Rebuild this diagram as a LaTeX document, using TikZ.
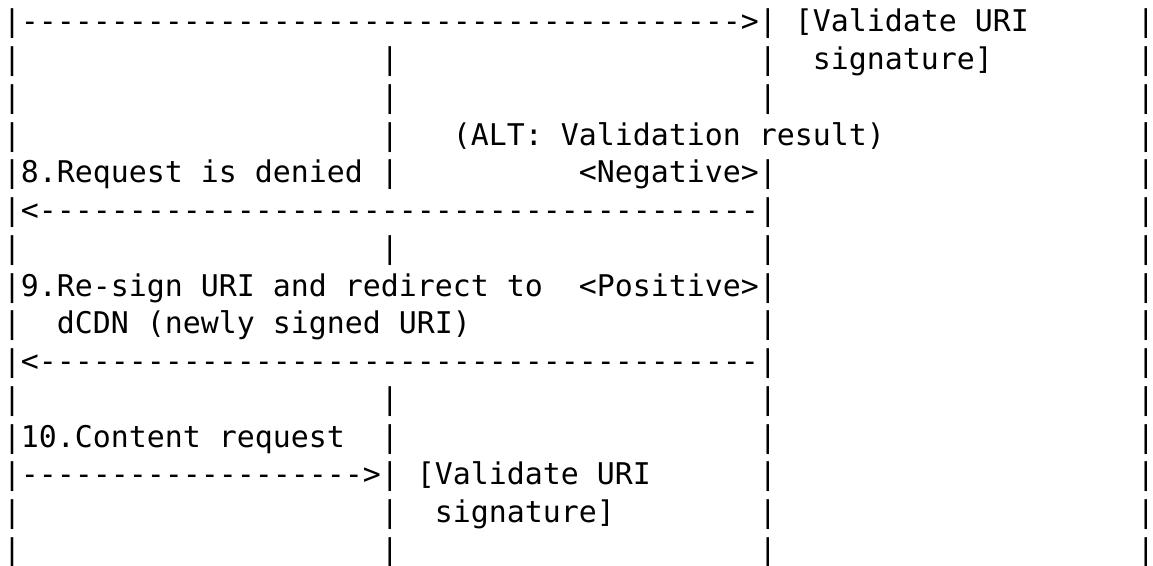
\documentclass[tikz,border=0pt]{standalone}
\usepackage{fontspec}
\setmonofont{DejaVu Sans Mono}
\newcommand\Rep[2]{\ifnum#1>0\relax#2\Rep{\numexpr#1-1\relax}{#2}\fi}
\newcommand\Bl[1]{\Rep{#1}{~}}
\newcommand\Dh[1]{\Rep{#1}{-}}
\tikzset{
  asciirow/.style={anchor=base west, inner sep=0pt, outer sep=0pt,
    font=\fontsize{22.42pt}{28pt}\selectfont\ttfamily, text=black}
}
\begin{document}
\begin{tikzpicture}[x=0.75pt,y=-0.75pt]
\useasboundingbox[fill=white] (0,0) rectangle (1153,566);
\node[asciirow] (r1)  at (3,32.00)  {|\Dh{40}>|~[Validate~URI\Bl{6}|};
\node[asciirow] (r2)  at (3,69.73)  {|\Bl{20}|\Bl{20}|\Bl{2}signature]\Bl{8}|};
\node[asciirow] (r3)  at (3,107.46) {|\Bl{20}|\Bl{20}|\Bl{20}|};
\node[asciirow] (r4)  at (3,145.19) {|\Bl{20}|\Bl{3}(ALT:~Validation~result)\Bl{14}|};
\node[asciirow] (r5)  at (3,182.92) {|8.Request~is~denied~|\Bl{10}<Negative>|\Bl{20}|};
\node[asciirow] (r6)  at (3,220.65) {|<\Dh{40}|\Bl{20}|};
\node[asciirow] (r7)  at (3,258.38) {|\Bl{20}|\Bl{20}|\Bl{20}|};
\node[asciirow] (r8)  at (3,296.11) {|9.Re-sign~URI~and~redirect~to~~<Positive>|\Bl{20}|};
\node[asciirow] (r9)  at (3,333.84) {|~~dCDN~(newly~signed~URI)\Bl{16}|\Bl{20}|};
\node[asciirow] (r10) at (3,371.57) {|<\Dh{40}|\Bl{20}|};
\node[asciirow] (r11) at (3,409.30) {|\Bl{20}|\Bl{20}|\Bl{20}|};
\node[asciirow] (r12) at (3,447.03) {|10.Content~request\Bl{2}|\Bl{20}|\Bl{20}|};
\node[asciirow] (r13) at (3,484.76) {|\Dh{19}>|~[Validate~URI\Bl{6}|\Bl{20}|};
\node[asciirow] (r14) at (3,522.49) {|\Bl{20}|\Bl{2}signature]\Bl{8}|\Bl{20}|};
\node[asciirow] (r15) at (3,560.22) {|\Bl{20}|\Bl{20}|\Bl{20}|};
\end{tikzpicture}
\end{document}
